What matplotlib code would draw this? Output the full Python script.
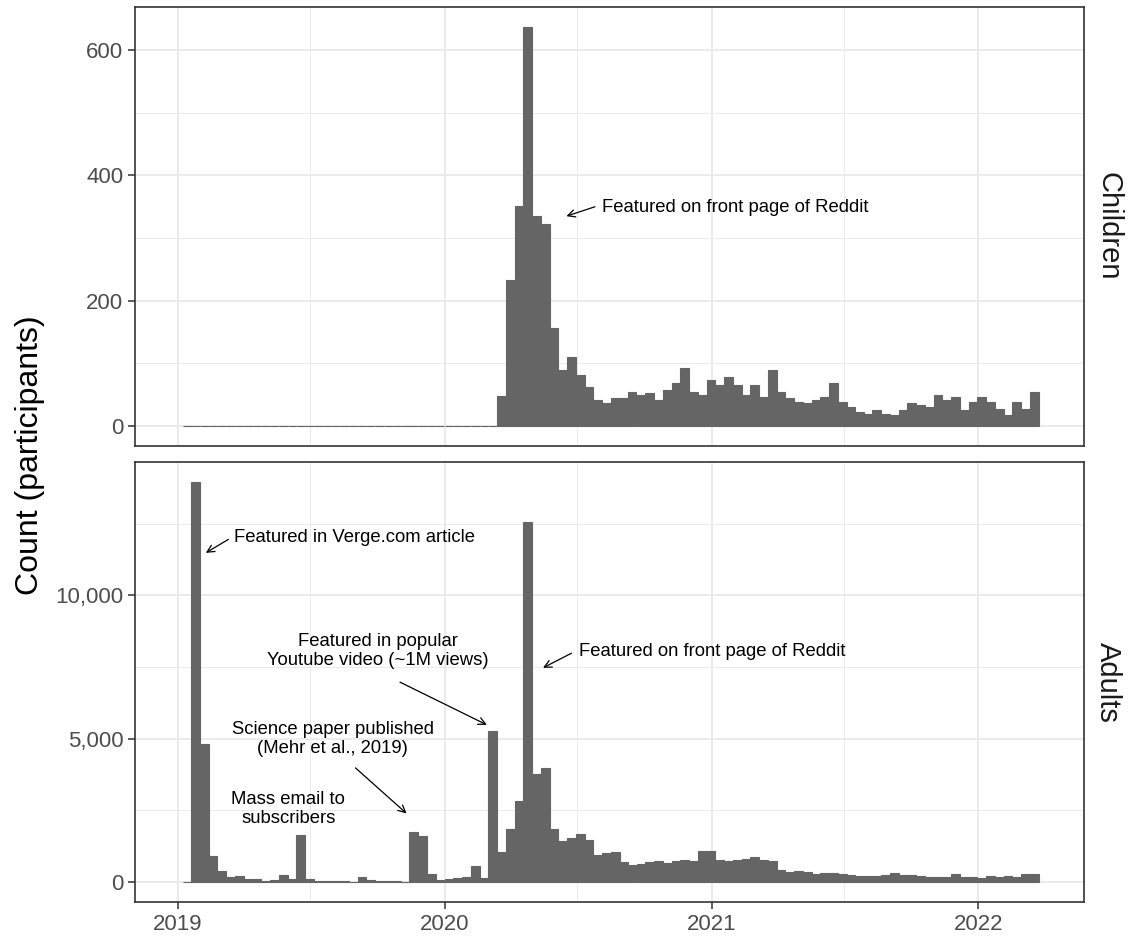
import matplotlib
matplotlib.use("Agg")
import matplotlib.pyplot as plt
import matplotlib.dates as mdates
import matplotlib.ticker as mticker
from datetime import date, timedelta

plt.rcParams['font.family'] = ['Liberation Sans', 'DejaVu Sans']

# histogram bins: ~12-day bins starting early Jan 2019
bin_start = date(2019, 1, 8)
bin_days = 11.96

# counts per bin (children only start in March 2020)
children = [0] * 36 + [
    48, 233, 351, 637, 335, 323, 157, 89, 111, 81,
    63, 41, 36, 44, 44, 55, 49, 52, 42, 57,
    69, 92, 55, 50, 73, 65, 79, 65, 49, 65,
    46, 89, 54, 44, 39, 36, 41, 47, 68, 38,
    30, 22, 20, 25, 20, 17, 25, 36, 33, 30,
    50, 42, 46, 26, 38, 47, 38, 28, 17, 39,
    28, 54,
]

adults = [
    15, 13950, 4830, 910, 385, 175, 210, 105, 105, 47,
    70, 245, 105, 1645, 105, 35, 35, 35, 35, 12,
    175, 82, 47, 47, 23, 12, 1750, 1610, 280, 70,
    105, 140, 175, 563, 141, 5280, 1057, 1831, 2818, 12550,
    3750, 3960, 1831, 1444, 1550, 1690, 1479, 951, 1021, 1057,
    704, 599, 634, 704, 740, 669, 740, 775, 740, 1092,
    1092, 775, 740, 775, 810, 880, 775, 740, 423, 352,
    387, 352, 282, 317, 317, 282, 247, 211, 211, 211,
    247, 317, 247, 247, 211, 176, 176, 176, 282, 176,
    176, 141, 211, 176, 211, 176, 282, 282,
]

panels = ["Children", "Adults"]

edges = mdates.date2num([bin_start + timedelta(days=bin_days * i) for i in range(len(adults))])


def d(s):
    return mdates.datestr2num(s)


BAR = "#656565"
GRID = "#EBEBEB"
FRAME = "#333333"

fig = plt.figure(figsize=(11.28, 9.38), dpi=100)
W, H = 1128, 938
left, right = 135 / W, 1084 / W
ax1 = fig.add_axes([left, 1 - 446 / H, right - left, (446 - 7) / H])
ax2 = fig.add_axes([left, 1 - 902 / H, right - left, (902 - 462) / H], sharex=ax1)

x0, x1 = d("2018-11-03"), d("2022-05-26")

for ax, vals, name in [(ax1, children, panels[0]), (ax2, adults, panels[1])]:
    ax.bar(edges, vals, width=bin_days, align='edge', color=BAR,
           edgecolor=BAR, linewidth=0.8, zorder=2)
    top = max(vals)
    ax.set_ylim(-0.05 * top, 1.05 * top)
    ax.set_xlim(x0, x1)
    ax.grid(which='major', color=GRID, linewidth=1.4, zorder=0)
    ax.grid(which='minor', color=GRID, linewidth=0.7, zorder=0)
    ax.set_axisbelow(True)
    for sp in ax.spines.values():
        sp.set_color(FRAME)
        sp.set_linewidth(1.2)
    ax.tick_params(which='major', length=5, width=1.1, color=FRAME,
                   labelsize=16, labelcolor="#4D4D4D")
    ax.tick_params(which='minor', length=0)
    # facet strip label on the right
    bb = ax.get_position()
    fig.text(1108 / W, (bb.y0 + bb.y1) / 2, name, rotation=-90,
             ha='center', va='center', fontsize=21, color="#1A1A1A")

ax1.xaxis.set_major_locator(mdates.YearLocator())
ax1.xaxis.set_minor_locator(mdates.MonthLocator(bymonth=7))
ax2.xaxis.set_major_formatter(mdates.DateFormatter('%Y'))
ax1.tick_params(axis='x', which='both', length=0, labelbottom=False)

ax1.yaxis.set_major_locator(mticker.MultipleLocator(200))
ax1.yaxis.set_minor_locator(mticker.MultipleLocator(100))
ax2.yaxis.set_major_locator(mticker.MultipleLocator(5000))
ax2.yaxis.set_minor_locator(mticker.MultipleLocator(2500))
ax2.yaxis.set_major_formatter(mticker.StrMethodFormatter('{x:,.0f}'))

fig.text(30 / W, 1 - 455 / H, "Count (participants)", rotation=90,
         ha='center', va='center', fontsize=23, color="black")

arrow = dict(arrowstyle='->', color='black', lw=0.9, shrinkA=0, shrinkB=0,
             mutation_scale=13)
fs = 13.3

# children panel
ax1.annotate("", xy=(d("2020-06-16"), 335), xytext=(d("2020-07-25"), 350),
             arrowprops=arrow)
ax1.text(d("2020-08-04"), 349, "Featured on front page of Reddit",
         ha='left', va='center', fontsize=fs)

# adults panel
ax2.annotate("", xy=(d("2019-02-08"), 11480), xytext=(d("2019-03-11"), 11950),
             arrowprops=arrow)
ax2.text(d("2019-03-19"), 12030, "Featured in Verge.com article",
         ha='left', va='center', fontsize=fs)

ax2.text(d("2019-10-02"), 8040, "Featured in popular\nYoutube video (~1M views)",
         ha='center', va='center', fontsize=fs, linespacing=1.15)
ax2.annotate("", xy=(d("2020-02-28"), 5480), xytext=(d("2019-11-01"), 6970),
             arrowprops=arrow)

ax2.text(d("2019-08-01"), 5000, "Science paper published\n(Mehr et al., 2019)",
         ha='center', va='center', fontsize=fs, linespacing=1.15)
ax2.annotate("", xy=(d("2019-11-10"), 2390), xytext=(d("2019-09-01"), 3980),
             arrowprops=arrow)

ax2.text(d("2019-06-01"), 2530, "Mass email to\nsubscribers",
         ha='center', va='center', fontsize=fs, linespacing=1.15)

ax2.annotate("", xy=(d("2020-05-15"), 7470), xytext=(d("2020-06-23"), 7980),
             arrowprops=arrow)
ax2.text(d("2020-07-03"), 8040, "Featured on front page of Reddit",
         ha='left', va='center', fontsize=fs)

fig.savefig("out.png", dpi=100)
